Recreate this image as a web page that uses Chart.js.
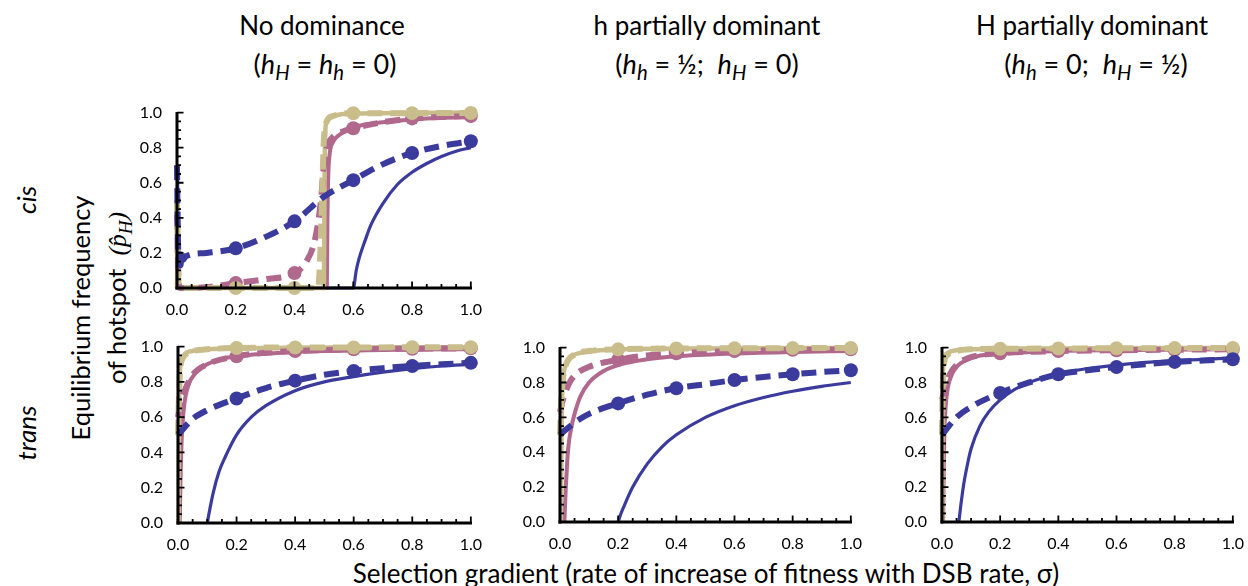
<!DOCTYPE html>
<html>
<head>
<meta charset="utf-8">
<script src="https://cdn.jsdelivr.net/npm/chart.js@4"></script>
<style>
  body { margin: 0; background: #fff; width: 1248px; height: 586px; position: relative; overflow: hidden; font-family: Lato, sans-serif; color: #000; }
  canvas { position: absolute; }
  .t { position: absolute; white-space: nowrap; transform: translate(-50%, -50%); }
  .rot { transform: translate(-50%, -50%) rotate(-90deg); }
  .ttl { font-size: 26px; }
  .ttl2 { font-size: 27px; }
  sub { font-size: 0.75em; vertical-align: -0.32em; line-height: 0; }
  .serif { font-family: "Liberation Serif", serif; font-style: italic; }
</style>
</head>
<body>
<div class="t ttl" style="left:322px;top:25px">No dominance</div>
<div class="t ttl2" style="left:325px;top:63px">(<i>h</i><sub><i>H</i></sub> = <i>h</i><sub><i>h</i></sub> = 0)</div>
<div class="t ttl" style="left:707px;top:25px">h partially dominant</div>
<div class="t ttl2" style="left:707px;top:63px">(<i>h</i><sub><i>h</i></sub> = ½;&nbsp; <i>h</i><sub><i>H</i></sub> = 0)</div>
<div class="t ttl" style="left:1092px;top:25px">H partially dominant</div>
<div class="t ttl2" style="left:1096px;top:63px">(<i>h</i><sub><i>h</i></sub> = 0;&nbsp; <i>h</i><sub><i>H</i></sub> = ½)</div>

<div class="t rot ttl" style="left:26px;top:200px"><i>cis</i></div>
<div class="t rot ttl" style="left:26px;top:433px"><i>trans</i></div>
<div class="t rot" style="left:80px;top:318px;font-size:25.5px">Equilibrium frequency</div>
<div class="t rot" style="left:117px;top:298px;font-size:25.5px">of hotspot&nbsp; <span class="serif">(<span style="font-style:italic">p̂</span><sub>H</sub>)</span></div>

<div class="t" style="left:706px;top:573px;font-size:26px">Selection gradient (rate of increase of fitness with DSB rate, σ)</div>

<canvas id="c1" width="354" height="222" style="left:132px;top:96px"></canvas>
<canvas id="c2" width="353" height="223" style="left:133px;top:330px"></canvas>
<canvas id="c3" width="351" height="221" style="left:515px;top:331px"></canvas>
<canvas id="c4" width="351" height="221" style="left:897px;top:331px"></canvas>

<script>
// tick labels / dot positions
const axisTicks = [0, 0.2, 0.4, 0.6, 0.8, 1.0];
const dotXs = [0.2, 0.4, 0.6, 0.8, 1.0];

// cis, no dominance
const cisBlueSolid = [[0,0],[0.002,0.68],[0.004,0.05],[0.006,0],[0.6,0],[0.61,0.1],[0.62,0.17],[0.64,0.27],[0.66,0.36],[0.7,0.48],[0.75,0.59],[0.8,0.66],[0.85,0.71],[0.9,0.75],[0.95,0.78],[1.0,0.8]];
const cisBlueDash = [[0,0.7],[0.003,0.3],[0.006,0.15],[0.009,0.22],[0.012,0.13],[0.016,0.2],[0.02,0.16],[0.03,0.18],[0.1,0.2],[0.2,0.226],[0.3,0.29],[0.4,0.38],[0.5,0.52],[0.6,0.615],[0.7,0.705],[0.8,0.77],[0.9,0.81],[1.0,0.837]];
const cisPinkSolid = [[0,0],[0.002,0.42],[0.005,0],[0.51,0],[0.512,0.4],[0.515,0.65],[0.52,0.77],[0.53,0.83],[0.55,0.87],[0.6,0.915],[0.7,0.945],[0.8,0.96],[0.9,0.97],[1.0,0.975]];
const cisPinkDash = [[0,0.42],[0.004,0.1],[0.01,0],[0.1,0.005],[0.2,0.028],[0.3,0.05],[0.4,0.085],[0.44,0.15],[0.47,0.28],[0.49,0.5],[0.5,0.7],[0.51,0.8],[0.53,0.86],[0.56,0.89],[0.6,0.911],[0.7,0.945],[0.8,0.967],[0.9,0.975],[1.0,0.98]];
const cisTanSolid = [[0,0],[0.002,0.5],[0.005,0],[0.5,0],[0.502,0.6],[0.505,0.9],[0.51,0.96],[0.53,0.98],[0.56,0.99],[0.6,0.995],[1.0,1.0]];
const cisTanDash = [[0,0.5],[0.004,0.1],[0.008,0],[0.2,0],[0.4,0],[0.48,0],[0.49,0.3],[0.495,0.6],[0.5,0.85],[0.51,0.95],[0.53,0.98],[0.6,0.996],[0.8,0.997],[1.0,0.998]];

// trans, no dominance
const tndBlueSolid = [[0.1,0],[0.11,0.09],[0.12,0.17],[0.14,0.29],[0.16,0.37],[0.2,0.5],[0.25,0.6],[0.3,0.665],[0.4,0.75],[0.5,0.8],[0.6,0.83],[0.7,0.855],[0.8,0.875],[0.9,0.89],[1.0,0.9]];
const tndBlueDash = [[0,0.5],[0.05,0.59],[0.1,0.64],[0.2,0.706],[0.3,0.765],[0.4,0.807],[0.5,0.84],[0.6,0.862],[0.7,0.878],[0.8,0.89],[0.9,0.9],[1.0,0.908]];
const tndPinkSolid = [[0.006,0],[0.008,0.2],[0.011,0.4],[0.015,0.55],[0.022,0.68],[0.035,0.78],[0.06,0.85],[0.1,0.9],[0.15,0.93],[0.2,0.945],[0.3,0.96],[0.4,0.97],[0.6,0.978],[0.8,0.983],[1.0,0.985]];
const tndPinkDash = [[0,0.6],[0.01,0.7],[0.025,0.76],[0.05,0.84],[0.1,0.9],[0.2,0.945],[0.3,0.965],[0.4,0.975],[0.6,0.985],[0.8,0.988],[1.0,0.99]];
const tndTanSolid = [[0.002,0],[0.004,0.75],[0.007,0.87],[0.012,0.92],[0.025,0.96],[0.05,0.975],[0.1,0.985],[0.2,0.99],[0.5,0.995],[1.0,0.997]];
const tndTanDash = [[0,0.5],[0.004,0.75],[0.008,0.88],[0.015,0.93],[0.03,0.96],[0.06,0.978],[0.1,0.985],[0.2,0.992],[0.4,0.995],[0.6,0.995],[0.8,0.996],[1.0,0.997]];

// trans, h partially dominant
const thdBlueSolid = [[0.2,0],[0.21,0.05],[0.22,0.09],[0.25,0.2],[0.3,0.333],[0.35,0.43],[0.4,0.5],[0.5,0.6],[0.6,0.667],[0.7,0.714],[0.8,0.75],[0.9,0.778],[1.0,0.8]];
const thdBlueDash = [[0,0.5],[0.05,0.57],[0.1,0.62],[0.2,0.68],[0.3,0.73],[0.4,0.767],[0.5,0.79],[0.6,0.814],[0.7,0.832],[0.8,0.847],[0.9,0.86],[1.0,0.87]];
const thdPinkSolid = [[0.015,0],[0.02,0.2],[0.025,0.35],[0.03,0.45],[0.04,0.55],[0.05,0.62],[0.07,0.72],[0.1,0.8],[0.15,0.866],[0.2,0.9],[0.3,0.933],[0.4,0.95],[0.6,0.966],[0.8,0.975],[1.0,0.98]];
const thdPinkDash = [[0,0.63],[0.01,0.7],[0.03,0.79],[0.05,0.84],[0.1,0.89],[0.2,0.93],[0.3,0.955],[0.4,0.968],[0.6,0.98],[0.8,0.987],[1.0,0.99]];
const thdTanSolid = [[0.003,0],[0.006,0.6],[0.01,0.8],[0.02,0.9],[0.04,0.95],[0.07,0.97],[0.1,0.98],[0.2,0.99],[0.5,0.995],[1.0,0.998]];
const thdTanDash = [[0,0.5],[0.005,0.7],[0.01,0.82],[0.02,0.9],[0.05,0.96],[0.1,0.98],[0.2,0.99],[0.4,0.995],[0.6,0.996],[0.8,0.997],[1.0,0.998]];

// trans, H partially dominant
const tHdBlueSolid = [[0.058,0],[0.065,0.1],[0.075,0.22],[0.09,0.35],[0.1,0.42],[0.13,0.55],[0.16,0.63],[0.2,0.7],[0.25,0.76],[0.3,0.8],[0.4,0.85],[0.5,0.88],[0.6,0.9],[0.7,0.915],[0.8,0.925],[0.9,0.933],[1.0,0.94]];
const tHdBlueDash = [[0,0.5],[0.05,0.6],[0.1,0.66],[0.2,0.74],[0.3,0.8],[0.4,0.847],[0.5,0.87],[0.6,0.889],[0.7,0.905],[0.8,0.918],[0.9,0.926],[1.0,0.933]];
const tHdPinkSolid = [[0.004,0],[0.006,0.3],[0.008,0.5],[0.012,0.65],[0.02,0.77],[0.03,0.83],[0.05,0.89],[0.08,0.925],[0.12,0.95],[0.2,0.965],[0.4,0.98],[0.6,0.985],[1.0,0.99]];
const tHdPinkDash = [[0,0.7],[0.01,0.76],[0.025,0.84],[0.05,0.9],[0.1,0.945],[0.2,0.967],[0.4,0.98],[0.6,0.985],[0.8,0.988],[1.0,0.99]];
const tHdTanSolid = [[0.001,0],[0.002,0.7],[0.004,0.88],[0.008,0.94],[0.02,0.97],[0.05,0.985],[0.1,0.99],[0.3,0.995],[1.0,0.998]];
const tHdTanDash = [[0,0.5],[0.003,0.8],[0.008,0.92],[0.02,0.96],[0.05,0.98],[0.1,0.99],[0.2,0.993],[0.4,0.995],[0.6,0.996],[0.8,0.997],[1.0,0.998]];

const BLUE = '#3b3b9e', PINK = '#b0688d', TAN = '#c9bd8b';

// black axis lines + Mathematica-style ticks pointing into the plot
function drawAxes(chart, color, w) {
  const { ctx, chartArea: a, scales: { x, y } } = chart;
  const left = Math.round(a.left), bottom = Math.round(a.bottom);
  const top = Math.round(y.getPixelForValue(1)) - 1;
  const right = Math.round(x.getPixelForValue(1)) + 1;
  ctx.save();
  ctx.fillStyle = color;
  ctx.fillRect(left - w / 2, top, w, bottom - top + w / 2);
  ctx.fillRect(left - w / 2, bottom - w / 2, right - left + w / 2, w);
  ctx.strokeStyle = color;
  ctx.lineWidth = 1.8;
  for (let i = 0; i <= 20; i++) {
    const v = i / 20;
    const len = i % 4 === 0 ? 6.5 : 4;
    const px = x.getPixelForValue(v), py = y.getPixelForValue(v);
    ctx.beginPath();
    ctx.moveTo(px, bottom); ctx.lineTo(px, bottom - len);
    ctx.moveTo(left, py); ctx.lineTo(left + len, py);
    ctx.stroke();
  }
  ctx.restore();
}

const innerTicks = {
  id: 'innerTicks',
  afterDraw(chart) { drawAxes(chart, '#000000', 3); }
};

function solid(data, color, w) {
  return { data, borderColor: color, borderWidth: w, pointRadius: 0, pointHoverRadius: 0,
    cubicInterpolationMode: 'monotone', clip: false, fill: false };
}

function dashed(data, color) {
  return { data, borderColor: color, backgroundColor: color, borderWidth: 6, borderDash: [15, 8],
    pointRadius: ctx => (ctx.raw && dotXs.includes(ctx.raw[0])) ? 7 : 0,
    pointBorderWidth: 0, pointHoverRadius: 0, cubicInterpolationMode: 'monotone', clip: false, fill: false };
}

function axis(isX) {
  return {
    type: 'linear', min: 0, max: 1,
    afterBuildTicks: s => { s.ticks = axisTicks.map(v => ({ value: v })); },
    afterFit: s => { if (isX) s.height = 30; else s.width = 45; },
    grid: { display: false },
    border: { display: false },
    ticks: { color: '#000', font: { family: 'Lato', size: 16 }, padding: isX ? 4 : 7,
      maxRotation: 0, autoSkip: false, callback: v => v.toFixed(1) }
  };
}

function panel(id, s) {
  new Chart(document.getElementById(id), {
    type: 'line',
    data: {
      datasets: [
        dashed(s.blueDash, BLUE),
        dashed(s.tanDash, TAN),
        dashed(s.pinkDash, PINK),
        solid(s.tanSolid, TAN, 4.5),
        solid(s.pinkSolid, PINK, 4),
        solid(s.blueSolid, BLUE, 3.2)
      ]
    },
    options: {
      responsive: false,
      animation: false,
      events: [],
      layout: { padding: { top: 12, right: 13, left: 0, bottom: 0 } },
      plugins: { legend: { display: false }, tooltip: { enabled: false } },
      scales: { x: axis(true), y: axis(false) }
    },
    plugins: [innerTicks]
  });
}

panel('c1', { blueSolid: cisBlueSolid, blueDash: cisBlueDash, pinkSolid: cisPinkSolid, pinkDash: cisPinkDash, tanSolid: cisTanSolid, tanDash: cisTanDash });
panel('c2', { blueSolid: tndBlueSolid, blueDash: tndBlueDash, pinkSolid: tndPinkSolid, pinkDash: tndPinkDash, tanSolid: tndTanSolid, tanDash: tndTanDash });
panel('c3', { blueSolid: thdBlueSolid, blueDash: thdBlueDash, pinkSolid: thdPinkSolid, pinkDash: thdPinkDash, tanSolid: thdTanSolid, tanDash: thdTanDash });
panel('c4', { blueSolid: tHdBlueSolid, blueDash: tHdBlueDash, pinkSolid: tHdPinkSolid, pinkDash: tHdPinkDash, tanSolid: tHdTanSolid, tanDash: tHdTanDash });
</script>
</body>
</html>
